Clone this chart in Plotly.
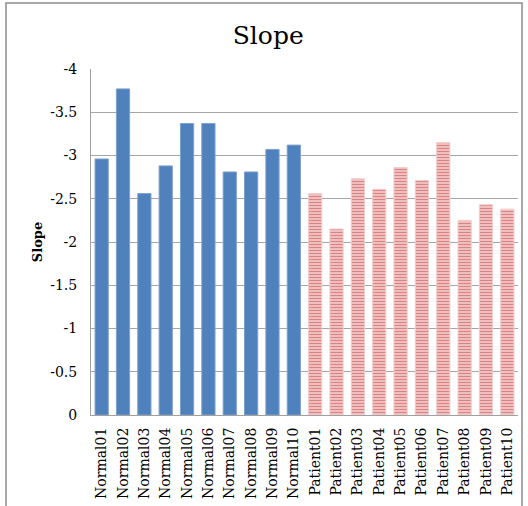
import plotly.graph_objects as go

# Subjects and their measured slope values
normal_ids = ["Normal01", "Normal02", "Normal03", "Normal04", "Normal05",
              "Normal06", "Normal07", "Normal08", "Normal09", "Normal10"]
patient_ids = ["Patient01", "Patient02", "Patient03", "Patient04", "Patient05",
               "Patient06", "Patient07", "Patient08", "Patient09", "Patient10"]
normal_slope = [-2.96, -3.77, -2.56, -2.88, -3.37, -3.37, -2.81, -2.81, -3.07, -3.12]
patient_slope = [-2.56, -2.15, -2.73, -2.61, -2.86, -2.71, -3.15, -2.25, -2.43, -2.38]

y_tick_vals = [0, -0.5, -1, -1.5, -2, -2.5, -3, -3.5, -4]
y_tick_text = ["0", "-0.5", "-1", "-1.5", "-2", "-2.5", "-3", "-3.5", "-4"]

FONT = "DejaVu Serif"

fig = go.Figure()
fig.add_trace(go.Bar(
    x=normal_ids,
    y=normal_slope,
    width=0.62,
    marker=dict(color="#4F81BD", line=dict(color="#7DA1CE", width=1)),
    showlegend=False,
))
fig.add_trace(go.Bar(
    x=patient_ids,
    y=patient_slope,
    width=0.62,
    marker=dict(
        color="#F6D3D2",
        line=dict(color="#F2CCCB", width=1),
        pattern=dict(
            shape="-",
            fillmode="overlay",
            fgcolor="#D98483",
            fgopacity=1,
            size=3,
            solidity=0.5,
        ),
    ),
    showlegend=False,
))

fig.update_layout(
    width=528,
    height=506,
    margin=dict(l=91, r=10, t=69, b=91),
    paper_bgcolor="white",
    plot_bgcolor="white",
    font=dict(family=FONT, color="#000000", size=14),
    title=dict(
        text="Slope",
        font=dict(family=FONT, size=25, color="#000000"),
        x=0.508, xref="container", xanchor="center",
        y=0.931, yref="container", yanchor="middle",
    ),
    barmode="overlay",
    shapes=[
        # outer chart frame
        dict(type="rect", xref="paper", yref="paper",
             x0=-0.199, x1=1.0094, y0=-0.35, y1=1.191,
             line=dict(color="#8C8C8C", width=1.5), fillcolor="rgba(0,0,0,0)",
             layer="below"),
    ],
)

fig.update_xaxes(
    type="category",
    categoryorder="array",
    categoryarray=normal_ids + patient_ids,
    automargin=False,
    tickangle=-90,
    tickfont=dict(family=FONT, size=14, color="#000000"),
    showline=True, linecolor="#A0A0A0", linewidth=1,
    ticks="outside", ticklen=6, tickcolor="rgba(0,0,0,0)",
    showgrid=False,
)

fig.update_yaxes(
    automargin=False,
    range=[0, -4],
    tickvals=y_tick_vals,
    ticktext=y_tick_text,
    tickfont=dict(family=FONT, size=14, color="#000000"),
    showline=True, linecolor="#A0A0A0", linewidth=1,
    ticks="outside", ticklen=10, tickcolor="rgba(0,0,0,0)",
    showgrid=True, gridcolor="#A6A6A6", gridwidth=1,
    zeroline=False,
    title=dict(text="<b>Slope</b>", font=dict(family=FONT, size=13, color="#000000"),
               standoff=4),
)

fig.write_html("out.html")
